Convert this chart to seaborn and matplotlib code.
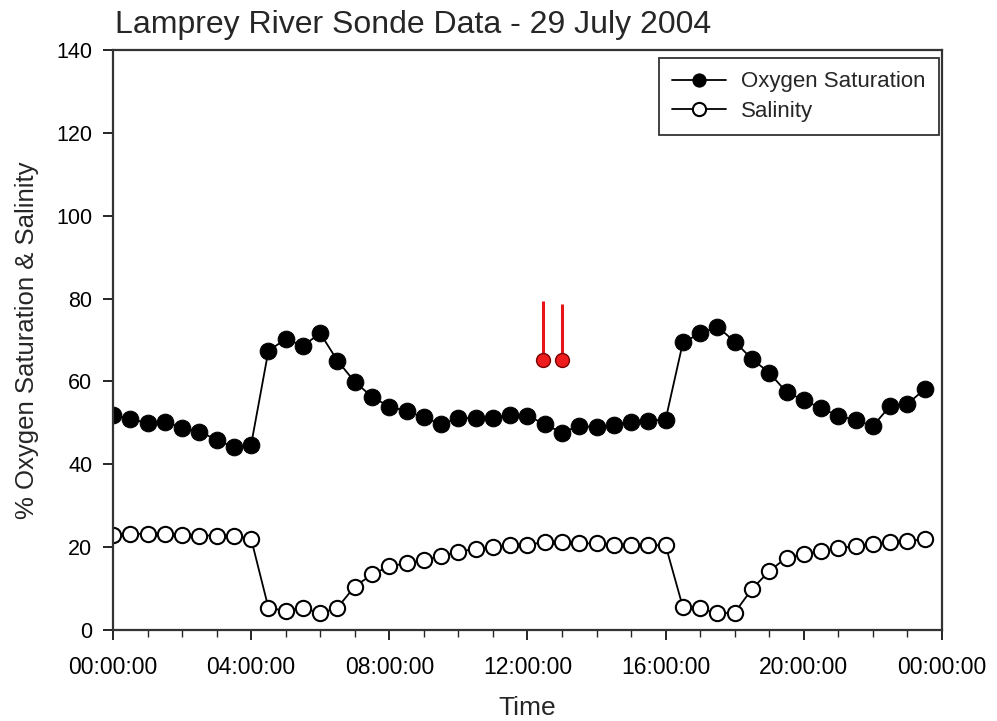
import matplotlib
matplotlib.use("Agg")
import matplotlib.pyplot as plt
import seaborn as sns
import numpy as np
import pandas as pd
from matplotlib.ticker import MultipleLocator

# ---- data ----
hours = [i * 0.5 for i in range(48)]
oxygen = [51.9, 50.9, 50.0, 50.3, 48.8, 47.9, 45.9, 44.1, 44.7, 67.4,
          70.2, 68.6, 71.6, 65.0, 59.9, 56.3, 53.9, 52.9, 51.3, 49.7,
          51.1, 51.2, 51.2, 51.9, 51.7, 49.7, 47.6, 49.3, 48.9, 49.5,
          50.3, 50.5, 50.8, 69.4, 71.6, 73.2, 69.6, 65.4, 62.1, 57.4,
          55.5, 53.5, 51.7, 50.7, 49.2, 54.1, 54.6, 58.1]
salinity = [22.9, 23.2, 23.2, 23.1, 22.9, 22.8, 22.8, 22.8, 22.0, 5.4,
            4.6, 5.4, 4.0, 5.4, 10.5, 13.4, 15.4, 16.1, 16.9, 17.9,
            18.9, 19.6, 20.0, 20.5, 20.6, 21.2, 21.2, 20.9, 20.9, 20.5,
            20.5, 20.5, 20.4, 5.5, 5.2, 4.0, 4.2, 9.9, 14.2, 17.5,
            18.3, 19.1, 19.7, 20.3, 20.8, 21.2, 21.5, 21.9]
pin_times = [12.45, 13.0]
pin_values = [65.2, 65.2]
pin_tops = [79.3, 78.8]
tick_hours = [0, 4, 8, 12, 16, 20, 24]
tick_labels = ["00:00:00", "04:00:00", "08:00:00", "12:00:00", "16:00:00", "20:00:00", "00:00:00"]

df = pd.DataFrame({"Time": hours, "Oxygen Saturation": oxygen, "Salinity": salinity})

sns.set_theme(style="ticks")
plt.rcParams['font.family'] = ['Liberation Sans', 'DejaVu Sans']

fig = plt.figure(figsize=(9.97, 7.21), dpi=100)
ax = fig.add_axes([0.1133, 0.1262, 0.9448 - 0.1133, 0.9307 - 0.1262])

sns.lineplot(data=df, x="Time", y="Oxygen Saturation", ax=ax, color="black",
             marker="o", markersize=12, markerfacecolor="black", markeredgecolor="black",
             linewidth=1.3, label="Oxygen Saturation")
sns.lineplot(data=df, x="Time", y="Salinity", ax=ax, color="black",
             marker="o", markersize=11, markerfacecolor="white", markeredgecolor="black",
             markeredgewidth=1.5, linewidth=1.3, label="Salinity")

# red pins
ax.vlines(pin_times, pin_values, pin_tops, colors="#e8141a", linewidth=2.2, zorder=4)
ax.plot(pin_times, pin_values, linestyle="none", marker="o", markersize=10,
        markerfacecolor="#ee1c1c", markeredgecolor="#7a0000", markeredgewidth=1.0, zorder=5)

ax.set_xlim(0, 24)
ax.set_ylim(0, 140)
ax.set_xticks(tick_hours)
ax.set_xticklabels(tick_labels)
ax.xaxis.set_minor_locator(MultipleLocator(1))
ax.set_yticks(range(0, 141, 20))

ax.tick_params(axis="both", which="major", direction="out", length=7, width=1.2,
               colors="black")
ax.tick_params(axis="x", which="major", pad=12, labelsize=16.5)
ax.tick_params(axis="y", which="major", pad=8, labelsize=15.5)
ax.tick_params(axis="x", which="minor", direction="out", length=5, width=1.0)

for s in ax.spines.values():
    s.set_visible(True)
    s.set_color("#333333")
    s.set_linewidth(1.6)

ax.set_xlabel("Time", fontsize=19, labelpad=12)
ax.set_ylabel("% Oxygen Saturation & Salinity", fontsize=18.5, labelpad=12)
ax.set_title("Lamprey River Sonde Data - 29 July 2004", fontsize=23, loc="left",
             x=0.003, pad=12)

leg = ax.legend(loc="upper right", bbox_to_anchor=(0.9965, 0.986), fontsize=16,
                frameon=True, fancybox=False, edgecolor="#333333", framealpha=1,
                handlelength=2.4, borderpad=0.6, labelspacing=0.38, handletextpad=0.7,
                borderaxespad=0.0)
leg.get_frame().set_linewidth(1.3)
for h in leg.legend_handles:
    h.set_markersize(9.5)

fig.savefig("out.png", dpi=100)
